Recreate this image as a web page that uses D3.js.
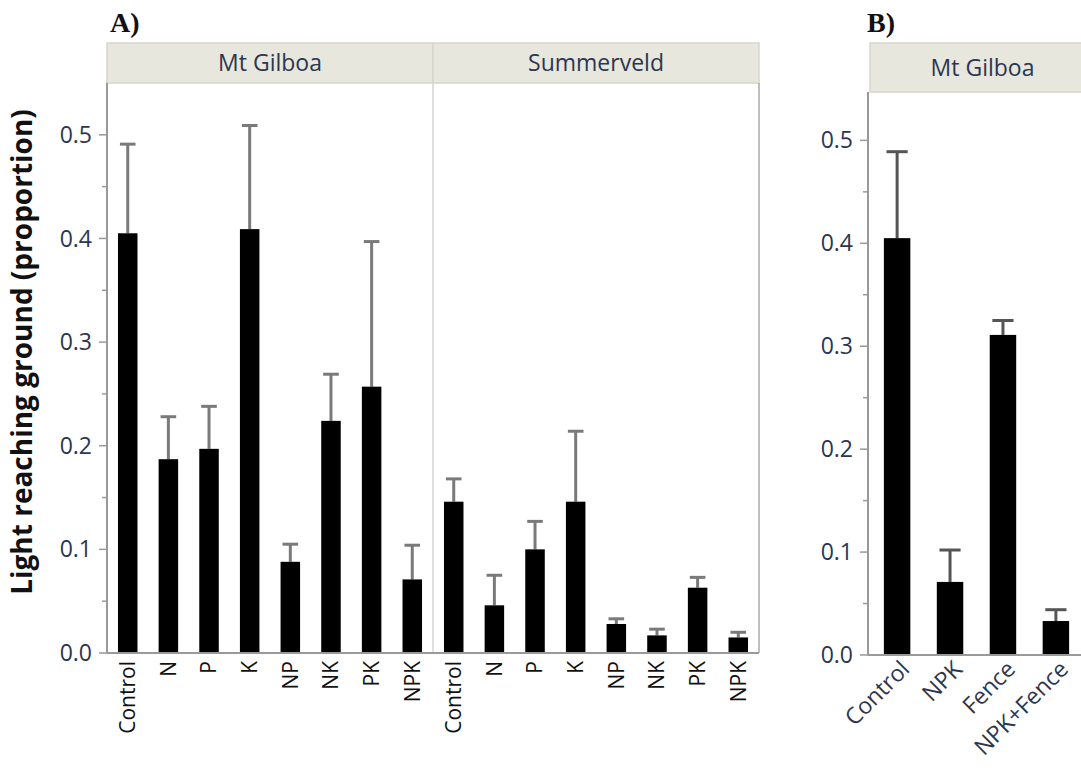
<!DOCTYPE html>
<html>
<head>
<meta charset="utf-8">
<script src="https://cdn.jsdelivr.net/npm/d3@7"></script>
<style>
  body { margin: 0; background: #fff; }
  text { font-family: "Open Sans", "DejaVu Sans", sans-serif; }
</style>
</head>
<body>
<div id="chart-area"></div>
<script>
// Panel A data
var sitesA = ["Mt Gilboa", "Summerveld"];
var treatA = ["Control", "N", "P", "K", "NP", "NK", "PK", "NPK"];
var gilboaMean = [0.405, 0.187, 0.197, 0.409, 0.088, 0.224, 0.257, 0.071];
var gilboaUpper = [0.491, 0.228, 0.238, 0.509, 0.105, 0.269, 0.397, 0.104];
var summerMean = [0.146, 0.046, 0.100, 0.146, 0.028, 0.017, 0.063, 0.015];
var summerUpper = [0.168, 0.075, 0.127, 0.214, 0.033, 0.023, 0.073, 0.020];

// Panel B data
var treatB = ["Control", "NPK", "Fence", "NPK+Fence"];
var bMean = [0.405, 0.071, 0.311, 0.033];
var bUpper = [0.489, 0.102, 0.325, 0.044];

var yTicks = [0.0, 0.1, 0.2, 0.3, 0.4, 0.5];
var yMinor = [0.05, 0.15, 0.25, 0.35, 0.45];

var tickColor = "#2c3650";

var svg = d3.select("#chart-area").append("svg")
    .attr("width", 1081)
    .attr("height", 784);

// y axis title
svg.append("text")
    .attr("transform", "translate(32,352) rotate(-90)")
    .attr("text-anchor", "middle")
    .attr("font-size", 28)
    .attr("font-weight", "bold")
    .attr("fill", "#111")
    .text("Light reaching ground (proportion)");

// panel letters
svg.append("text").attr("x", 110).attr("y", 32)
    .style("font-family", "'Liberation Serif', serif")
    .attr("font-size", 28).attr("font-weight", "bold").attr("fill", "#111").text("A)");
svg.append("text").attr("x", 867).attr("y", 32)
    .style("font-family", "'Liberation Serif', serif")
    .attr("font-size", 28).attr("font-weight", "bold").attr("fill", "#111").text("B)");

function drawYAxis(g, y, x0) {
    var ax = g.append("g").attr("transform", "translate(" + x0 + ",0)");
    ax.append("line").attr("x1", 0).attr("x2", 0)
        .attr("y1", y.range()[1]).attr("y2", y.range()[0])
        .attr("stroke", "#999").attr("stroke-width", 2);
    ax.selectAll(".maj").data(yTicks).enter().append("line")
        .attr("x1", -8).attr("x2", 0)
        .attr("y1", d => y(d)).attr("y2", d => y(d))
        .attr("stroke", "#999").attr("stroke-width", 1.5);
    ax.selectAll(".min").data(yMinor).enter().append("line")
        .attr("x1", -5).attr("x2", 0)
        .attr("y1", d => y(d)).attr("y2", d => y(d))
        .attr("stroke", "#999").attr("stroke-width", 1.5);
    ax.selectAll("text").data(yTicks).enter().append("text")
        .attr("x", -15).attr("y", d => y(d)).attr("dy", "0.35em")
        .attr("text-anchor", "end").attr("font-size", 23)
        .attr("fill", tickColor)
        .text(d3.format(".1f"));
}

function drawBars(g, x, y, names, mean, upper, errColor) {
    var data = names.map((n, i) => ({ name: n, m: mean[i], u: upper[i] }));
    var cw = x.bandwidth() * 0.8;
    data.forEach(d => {
        var cx = x(d.name) + x.bandwidth() / 2;
        g.append("line").attr("x1", cx).attr("x2", cx)
            .attr("y1", y(d.m)).attr("y2", y(d.u))
            .attr("stroke", errColor).attr("stroke-width", 3);
        g.append("line").attr("x1", cx - cw / 2).attr("x2", cx + cw / 2)
            .attr("y1", y(d.u)).attr("y2", y(d.u))
            .attr("stroke", errColor).attr("stroke-width", 3);
    });
    g.selectAll(".bar").data(data).enter().append("rect")
        .attr("x", d => x(d.name))
        .attr("y", d => y(d.m))
        .attr("width", x.bandwidth())
        .attr("height", d => y(0) - y(d.m))
        .attr("fill", "#000");
}

function drawStrip(g, x0, x1, top, bottom, label) {
    g.append("rect").attr("x", x0).attr("y", top)
        .attr("width", x1 - x0).attr("height", bottom - top)
        .attr("fill", "#e7e7de").attr("stroke", "#d6d6cb").attr("stroke-width", 1.5);
    g.append("text").attr("x", (x0 + x1) / 2).attr("y", (top + bottom) / 2)
        .attr("dy", "0.35em").attr("text-anchor", "middle")
        .attr("font-size", 23).attr("fill", tickColor).text(label);
}

// ---------- Panel A ----------
var gA = svg.append("g");
var yA = d3.scaleLinear().domain([0, 0.55]).range([653, 83]);
var axisXA = 107, panelW = 326;

[gilboaMean, summerMean].forEach((means, p) => {
    var uppers = p === 0 ? gilboaUpper : summerUpper;
    var left = axisXA + p * panelW;
    var x = d3.scaleBand().domain(treatA)
        .range([left, left + panelW])
        .paddingInner(0.52).paddingOuter(0.27);

    drawStrip(gA, left, left + panelW, 43, 83, sitesA[p]);

    // panel right border
    gA.append("line").attr("x1", left + panelW).attr("x2", left + panelW)
        .attr("y1", 83).attr("y2", yA(0))
        .attr("stroke", p === 0 ? "#d4d4d4" : "#aaa").attr("stroke-width", 1.5);

    drawBars(gA, x, yA, treatA, means, uppers, "#7a7a7a");

    gA.selectAll(".xl" + p).data(treatA).enter().append("text")
        .attr("transform", d => "translate(" + (x(d) + x.bandwidth() / 2) + "," + (yA(0) + 8) + ") rotate(-90)")
        .attr("dy", "0.35em")
        .attr("text-anchor", "end").attr("font-size", 21)
        .attr("fill", "#111").text(d => d);
});

// bottom axis line A
gA.append("line").attr("x1", axisXA).attr("x2", axisXA + 2 * panelW)
    .attr("y1", yA(0)).attr("y2", yA(0))
    .attr("stroke", "#999").attr("stroke-width", 2);
drawYAxis(gA, yA, axisXA);

// ---------- Panel B ----------
var gB = svg.append("g");
var yB = d3.scaleLinear().domain([0, 0.547]).range([655, 92]);
var axisXB = 868;
var xB = d3.scaleBand().domain(treatB)
    .range([axisXB, 1085])
    .paddingInner(0.5).paddingOuter(0.3);

drawStrip(gB, 870, 1095, 43, 92, "Mt Gilboa");
drawBars(gB, xB, yB, treatB, bMean, bUpper, "#555");

gB.append("line").attr("x1", axisXB).attr("x2", 1081)
    .attr("y1", yB(0)).attr("y2", yB(0))
    .attr("stroke", "#999").attr("stroke-width", 2);
drawYAxis(gB, yB, axisXB);

gB.selectAll(".xlb").data(treatB).enter().append("text")
    .attr("transform", d => "translate(" + (xB(d) + xB.bandwidth() / 2 + 8) + "," + (yB(0) + 10) + ") rotate(-45)")
    .attr("dy", "0.35em")
    .attr("text-anchor", "end").attr("font-size", 23)
    .attr("fill", tickColor).text(d => d);
</script>
</body>
</html>
